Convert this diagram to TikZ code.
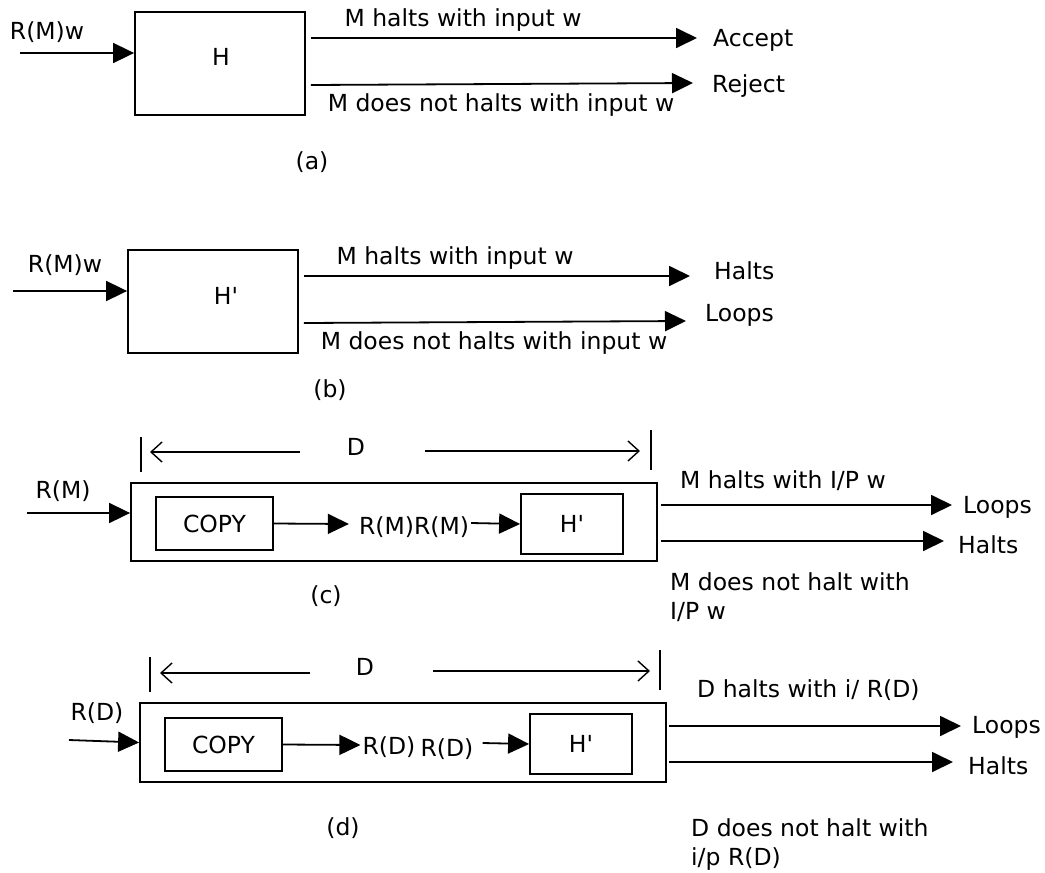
\documentclass[tikz,border=0pt]{standalone}
\usepackage{fontspec}
\setmainfont{DejaVu Sans}
\usetikzlibrary{arrows.meta,calc}

\tikzset{
	box/.style={draw, line width=1.8pt, inner sep=0pt},
	txt/.style={inner sep=0pt, yshift=-2.5pt, font=\fontsize{23.5}{29}\selectfont},
	lft/.style={txt, anchor=west, align=left},
	flow/.style={line width=1.8pt, -{Triangle[length=21pt,width=20pt]}},
	dimline/.style={line width=1.4pt, -{Straight Barb[length=11pt,width=20pt]}},
	tick/.style={line width=1.4pt}
}

\begin{document}
\begin{tikzpicture}[x=1pt, y=-1pt]
			\useasboundingbox (0,0) rectangle (1045,873);
			
			%%%%% (a) %%%%%
			
			\node[box, minimum width=170pt, minimum height=103pt] (H) at (220,63.5) {};
			\node[txt] (Hname) at (221,54) {H};
			\node[txt] (inlblA) at (47,30) {R(M)w};
			\coordinate (inA) at (20,53);
			\draw[flow] (inA) -- (inA -| H.west);
			
			\node[txt] (haltA) at (463,18) {M halts with input w};
			\node[txt] (nhaltA) at (501,103) {M does not halts with input w};
			\node[lft] (accept) at (713,38) {Accept};
			\node[lft] (reject) at (712,84) {Reject};
			\coordinate (acceptT) at (697,38);
			\coordinate (rejectT) at (693,83);
			\draw[flow] ($(H.east)+(5,-25.5)$) -- (acceptT);
			\draw[flow] ($(H.east)+(5,21.5)$) -- (rejectT);
			\node[txt] (capA) at (312,160) {(a)};
			
			%%%%% (b) %%%%%
			
			\node[box, minimum width=170pt, minimum height=103pt] (Hb) at (213,301.5) {};
			\node[txt] (Hbname) at (226,293) {H\textquotesingle};
			\node[txt] (inlblB) at (65,263) {R(M)w};
			\coordinate (inB) at (13,291);
			\draw[flow] (inB) -- (inB -| Hb.west);
			
			\node[txt] (haltB) at (455,256) {M halts with input w};
			\node[txt] (nhaltB) at (494,341) {M does not halts with input w};
			\node[lft] (haltsB) at (714,268) {Halts};
			\node[lft] (loopsB) at (705,313) {Loops};
			\coordinate (haltsBT) at (690,276);
			\coordinate (loopsBT) at (686,321);
			\draw[flow] ($(Hb.east)+(5,-25.5)$) -- (haltsBT);
			\draw[flow] ($(Hb.east)+(5,21.5)$) -- (loopsBT);
			\node[txt] (capB) at (330,388) {(b)};
			
			%%%%% (c) %%%%%
			
			\draw[tick] (141,437) -- (141,472);
			\draw[tick] (651,430) -- (651,470);
			\node[txt] (dC) at (356,444) {D};
			\draw[dimline] (300,452) -- (150,452);
			\draw[dimline] (425,451) -- (640,451);
			
			\node[box, minimum width=526pt, minimum height=78pt] (outC) at (394,522) {};
			\node[box, txt, yshift=2.5pt, minimum width=117pt, minimum height=53pt] (copyC) at (214.5,523.5) {COPY};
			\node[box, txt, yshift=2.5pt, minimum width=102pt, minimum height=60pt] (hpC) at (572,524) {H\textquotesingle};
			\node[txt] (rrC) at (414,525) {R(M)R(M)};
			\draw[flow] (copyC.east) -- ($(rrC.west)+(-10,-3.5)$);
			\draw[flow] ($(rrC.east)+(2,-4.5)$) -- (hpC.west);
			
			\node[txt] (inlblC) at (63,489) {R(M)};
			\coordinate (inC) at (27,513);
			\draw[flow] (inC) -- (inC -| outC.west);
			
			\node[lft] (haltC) at (680,478) {M halts with I/P w};
			\node[lft] (nhaltC) at (670,594.5) {M does not halt with\\I/P w};
			\node[lft] (loopsC) at (963,505) {Loops};
			\node[lft] (haltsC) at (958,542) {Halts};
			\draw[flow] ($(outC.east)+(3,-17)$) -- ($(loopsC.west)+(-11,-2.5)$);
			\draw[flow] ($(outC.east)+(3,19)$) -- ($(haltsC.west)+(-14,-3.5)$);
			\node[txt] (capC) at (326,594) {(c)};
			
			%%%%% (d) %%%%%
			
			\draw[tick] (150,657) -- (150,692);
			\draw[tick] (660,650) -- (660,690);
			\node[txt] (dD) at (365,664) {D};
			\draw[dimline] (310,673) -- (160,673);
			\draw[dimline] (433,671) -- (650,671);
			
			\node[box, minimum width=526pt, minimum height=79pt] (outD) at (403,742.5) {};
			\node[box, txt, yshift=2.5pt, minimum width=117pt, minimum height=53pt] (copyD) at (223.5,744.5) {COPY};
			\node[box, txt, yshift=2.5pt, minimum width=102pt, minimum height=60pt] (hpD) at (581,744) {H\textquotesingle};
			\node[txt] (rdA) at (389,745) {R(D)};
			\node[txt] (rdB) at (447,747) {R(D)};
			\draw[flow] (copyD.east) -- ($(rdA.west)+(-2,-2.5)$);
			\draw[flow] ($(rdB.east)+(9,-6.5)$) -- (hpD.west);
			
			\node[txt] (inlblD) at (97,711) {R(D)};
			\coordinate (inD) at (69,740);
			\draw[flow] (inD) -- (outD.west);
			
			\node[lft] (haltD) at (697,688) {D halts with i/ R(D)};
			\node[lft] (nhaltD) at (691,842.5) {D does not halt with\\i/p R(D)};
			\node[lft] (loopsD) at (972,725) {Loops};
			\node[lft] (haltsD) at (968,763) {Halts};
			\draw[flow] ($(outD.east)+(2,-16.5)$) -- ($(loopsD.west)+(-11,-1.5)$);
			\draw[flow] ($(outD.east)+(2,19.5)$) -- ($(haltsD.west)+(-15,-3.5)$);
			\node[txt] (capD) at (343,826) {(d)};
			
		\end{tikzpicture}
\end{document}
